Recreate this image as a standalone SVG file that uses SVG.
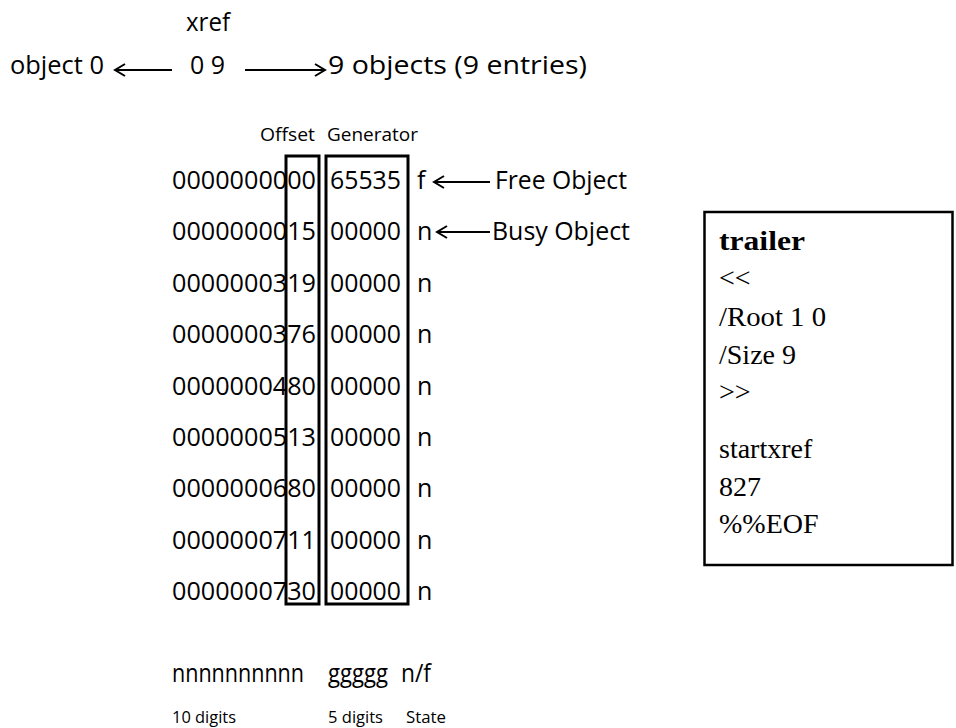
<svg xmlns="http://www.w3.org/2000/svg" width="956" height="728" viewBox="0 0 956 728">
<defs>
<style>
.c{font-family:"Open Sans","Noto Sans",sans-serif;font-size:25px;fill:#000}
.s{font-family:"Open Sans","Noto Sans",sans-serif;font-size:19px;fill:#000}
.xs{font-family:"Open Sans","Noto Sans",sans-serif;font-size:16.5px;fill:#000}
.t{font-family:"Liberation Serif","Times New Roman",serif;font-size:28px;fill:#000}
.box{fill:none;stroke:#000;stroke-width:3}
.arr{fill:none;stroke:#000;stroke-width:2;marker-end:url(#ah)}
</style>
<marker id="ah" markerUnits="userSpaceOnUse" markerWidth="16" markerHeight="16" refX="12" refY="7" orient="auto">
<path d="M2,1 L12,7 L2,13" fill="none" stroke="#000" stroke-width="2"/>
</marker>
</defs>
<rect width="956" height="728" fill="#fff"/>

<g id="header">
<text class="c" x="186" y="31" textLength="44" lengthAdjust="spacingAndGlyphs">xref</text>
<text class="c" x="10" y="74" textLength="94" lengthAdjust="spacingAndGlyphs">object 0</text>
<text class="c" x="190" y="74" textLength="35" lengthAdjust="spacingAndGlyphs">0 9</text>
<text class="c" x="328" y="74" textLength="259" lengthAdjust="spacingAndGlyphs">9 objects (9 entries)</text>
</g>

<g id="column-labels">
<text class="s" x="260" y="141" textLength="55" lengthAdjust="spacingAndGlyphs">Offset</text>
<text class="s" x="327" y="141" textLength="91" lengthAdjust="spacingAndGlyphs">Generator</text>
</g>

<g id="offset-column">
<rect class="box" x="286" y="156" width="33" height="448"/>
</g>
<g id="generator-column">
<rect class="box" x="326" y="156" width="82" height="448"/>
</g>

<g id="rows">
<text class="c" x="172" y="189" textLength="144" lengthAdjust="spacingAndGlyphs">0000000000</text>
<text class="c" x="330" y="189" textLength="71" lengthAdjust="spacingAndGlyphs">65535</text>
<text class="c" x="417" y="189">f</text>

<text class="c" x="172" y="240.4" textLength="144" lengthAdjust="spacingAndGlyphs">0000000015</text>
<text class="c" x="330" y="240.4" textLength="71" lengthAdjust="spacingAndGlyphs">00000</text>
<text class="c" x="417" y="240.4">n</text>

<text class="c" x="172" y="291.8" textLength="144" lengthAdjust="spacingAndGlyphs">0000000319</text>
<text class="c" x="330" y="291.8" textLength="71" lengthAdjust="spacingAndGlyphs">00000</text>
<text class="c" x="417" y="291.8">n</text>

<text class="c" x="172" y="343.2" textLength="144" lengthAdjust="spacingAndGlyphs">0000000376</text>
<text class="c" x="330" y="343.2" textLength="71" lengthAdjust="spacingAndGlyphs">00000</text>
<text class="c" x="417" y="343.2">n</text>

<text class="c" x="172" y="394.6" textLength="144" lengthAdjust="spacingAndGlyphs">0000000480</text>
<text class="c" x="330" y="394.6" textLength="71" lengthAdjust="spacingAndGlyphs">00000</text>
<text class="c" x="417" y="394.6">n</text>

<text class="c" x="172" y="446" textLength="144" lengthAdjust="spacingAndGlyphs">0000000513</text>
<text class="c" x="330" y="446" textLength="71" lengthAdjust="spacingAndGlyphs">00000</text>
<text class="c" x="417" y="446">n</text>

<text class="c" x="172" y="497.4" textLength="144" lengthAdjust="spacingAndGlyphs">0000000680</text>
<text class="c" x="330" y="497.4" textLength="71" lengthAdjust="spacingAndGlyphs">00000</text>
<text class="c" x="417" y="497.4">n</text>

<text class="c" x="172" y="548.8" textLength="144" lengthAdjust="spacingAndGlyphs">0000000711</text>
<text class="c" x="330" y="548.8" textLength="71" lengthAdjust="spacingAndGlyphs">00000</text>
<text class="c" x="417" y="548.8">n</text>

<text class="c" x="172" y="600.2" textLength="144" lengthAdjust="spacingAndGlyphs">0000000730</text>
<text class="c" x="330" y="600.2" textLength="71" lengthAdjust="spacingAndGlyphs">00000</text>
<text class="c" x="417" y="600.2">n</text>
</g>

<g id="free-object">
<text class="c" x="495" y="189" textLength="132" lengthAdjust="spacingAndGlyphs">Free Object</text>
</g>
<g id="busy-object">
<text class="c" x="492" y="240.4" textLength="138" lengthAdjust="spacingAndGlyphs">Busy Object</text>
</g>

<g id="connectors">
<line class="arr" x1="172" y1="70" x2="115" y2="70"/>
<line class="arr" x1="245" y1="70" x2="325" y2="70"/>
<line class="arr" x1="490" y1="182" x2="434" y2="182"/>
<line class="arr" x1="490" y1="232" x2="437" y2="232"/>
</g>

<g id="format-legend">
<text class="c" x="172" y="682" textLength="132" lengthAdjust="spacingAndGlyphs">nnnnnnnnnn</text>
<text class="c" x="328" y="682" textLength="60" lengthAdjust="spacingAndGlyphs">ggggg</text>
<text class="c" x="401" y="682" textLength="30" lengthAdjust="spacingAndGlyphs">n/f</text>
<text class="xs" x="172" y="723" textLength="64" lengthAdjust="spacingAndGlyphs">10 digits</text>
<text class="xs" x="328" y="723" textLength="55" lengthAdjust="spacingAndGlyphs">5 digits</text>
<text class="xs" x="406" y="723" textLength="40" lengthAdjust="spacingAndGlyphs">State</text>
</g>

<g id="trailer">
<rect x="704.5" y="212" width="248" height="353" fill="none" stroke="#000" stroke-width="2.5"/>
<text class="t" x="719" y="250" font-weight="bold" textLength="86" lengthAdjust="spacingAndGlyphs">trailer</text>
<text class="t" x="719" y="287">&lt;&lt;</text>
<text class="t" x="719" y="326" textLength="107" lengthAdjust="spacingAndGlyphs">/Root 1 0</text>
<text class="t" x="719" y="364">/Size 9</text>
<text class="t" x="719" y="401">&gt;&gt;</text>
<text class="t" x="719" y="458">startxref</text>
<text class="t" x="719" y="496">827</text>
<text class="t" x="719" y="533">%%EOF</text>
</g>
</svg>
